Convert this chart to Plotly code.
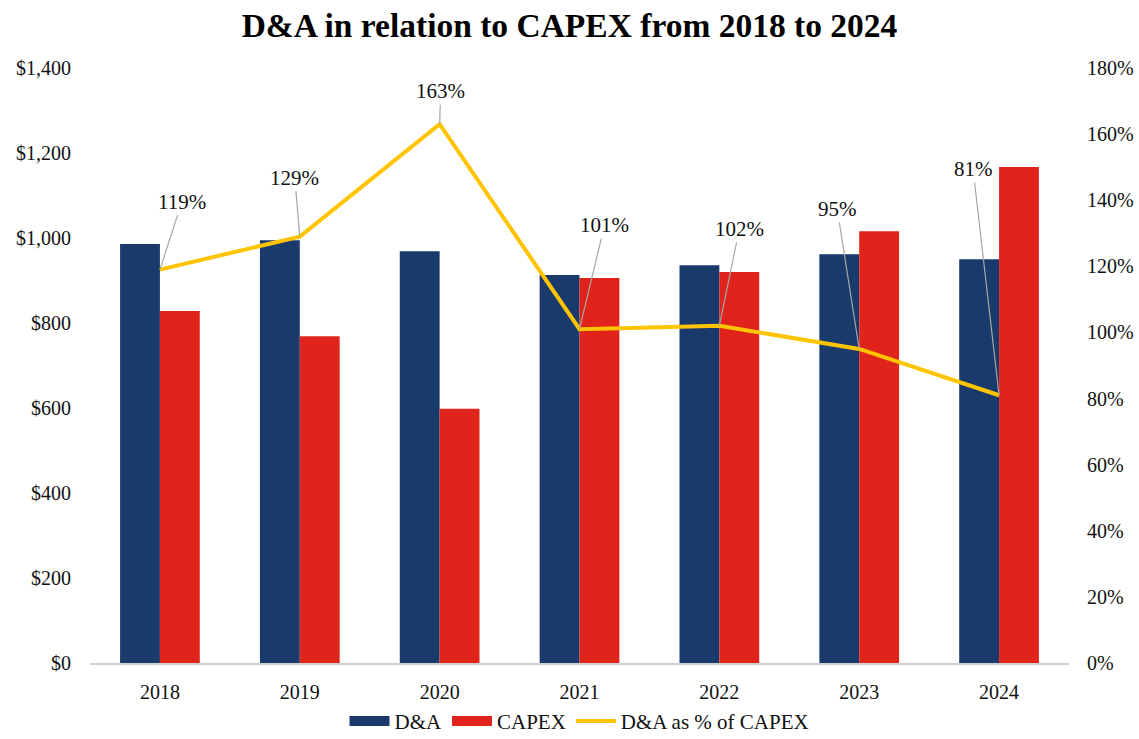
import plotly.graph_objects as go

years = ["2018", "2019", "2020", "2021", "2022", "2023", "2024"]
da = [986, 995, 969, 913, 936, 962, 950]
capex = [828, 769, 598, 906, 920, 1016, 1167]
da_pct = [119, 129, 163, 101, 102, 95, 81]

# label offsets (pixels) for the percentage callouts
label_dx = [22, -5, 1, 25, 20, -22, -26]
label_dy = [-68, -59, -33, -104, -97, -140, -226]

NAVY = "#1B3A6C"
RED = "#E0231B"
GOLD = "#FFC400"
FONT = "Liberation Serif"

fig = go.Figure()
fig.add_trace(go.Bar(x=years, y=da, name="D&A", marker_color=NAVY,
                     marker_line_width=0, showlegend=False))
fig.add_trace(go.Bar(x=years, y=capex, name="CAPEX", marker_color=RED,
                     marker_line_width=0, showlegend=False))
fig.add_trace(go.Scatter(x=years, y=da_pct, name="D&A as % of CAPEX", mode="lines",
                         line=dict(color=GOLD, width=4), yaxis="y2", showlegend=False))

# legend keys: wide swatches for the bars, a line for the ratio
for name, color, w in [("D&A", NAVY, 11), ("CAPEX", RED, 11), ("D&A as % of CAPEX", GOLD, 4)]:
    fig.add_trace(go.Scatter(x=[years[0]], y=[None], mode="lines", name=name,
                             line=dict(color=color, width=w)))

# callouts: category axis positions are given by index
for i, (p, dx, dy) in enumerate(zip(da_pct, label_dx, label_dy)):
    fig.add_annotation(x=i, y=p, xref="x", yref="y2", text=f"{p}%", showarrow=True,
                       arrowhead=0, arrowwidth=1.2, arrowcolor="#A6A6A6",
                       ax=dx, ay=dy, standoff=0,
                       font=dict(family=FONT, size=21, color="#111111"))

fig.update_layout(
    width=1139, height=739,
    margin=dict(l=90, r=70, t=68, b=76, autoexpand=False),
    paper_bgcolor="white", plot_bgcolor="white",
    font=dict(family=FONT, size=20, color="#111111"),
    title=dict(text="<b>D&A in relation to CAPEX from 2018 to 2024</b>",
               x=0.5, xanchor="center", y=0.966, yanchor="middle",
               font=dict(family=FONT, size=33.5, color="#000000")),
    barmode="group", bargap=0.43, bargroupgap=0,
    xaxis=dict(type="category", categoryorder="array", categoryarray=years,
               range=[-0.5, len(years) - 0.5], autorange=False,
               showline=True, linecolor="#D0D0D0", linewidth=1.5,
               ticks="", showgrid=False, tickfont=dict(size=20), ticklabelstandoff=10),
    yaxis=dict(range=[0, 1400], dtick=200, tickprefix="$", tickformat=",d",
               showgrid=False, zeroline=False, ticks="", ticklabelstandoff=18),
    yaxis2=dict(range=[0, 180], dtick=20, ticksuffix="%", overlaying="y", side="right",
                showgrid=False, zeroline=False, ticks="", ticklabelstandoff=17),
    legend=dict(orientation="h", x=0.5, xanchor="center", yref="container",
                y=0.024, yanchor="middle", entrywidth=0,
                font=dict(size=21), itemwidth=40, traceorder="normal"),
)

fig.write_html("out.html")
